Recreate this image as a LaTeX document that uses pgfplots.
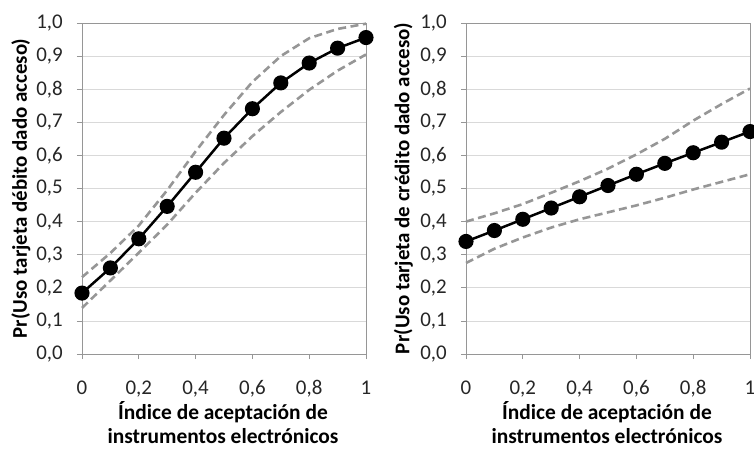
\documentclass[border=0pt]{standalone}
\usepackage{pgfplots}
\pgfplotsset{compat=1.18}
\usepackage{pgfplotstable}
\usepackage{fontspec}
\setmainfont{Carlito}
\definecolor{gridc}{RGB}{217,217,217}
\definecolor{axc}{RGB}{150,150,150}
\definecolor{dashc}{RGB}{150,150,150}
\pgfplotstableread{
x mean up lo
0   0.184 0.232 0.139
0.1 0.260 0.305 0.222
0.2 0.348 0.388 0.306
0.3 0.446 0.495 0.391
0.4 0.549 0.612 0.487
0.5 0.652 0.722 0.577
0.6 0.741 0.822 0.658
0.7 0.819 0.900 0.731
0.8 0.879 0.954 0.798
0.9 0.924 0.982 0.856
1.0 0.956 0.998 0.905
}\debito
\pgfplotstableread{
x mean up lo
0   0.340 0.400 0.275
0.1 0.373 0.425 0.318
0.2 0.407 0.453 0.352
0.3 0.441 0.487 0.382
0.4 0.475 0.522 0.407
0.5 0.509 0.560 0.428
0.6 0.543 0.603 0.449
0.7 0.576 0.650 0.472
0.8 0.608 0.705 0.497
0.9 0.640 0.755 0.520
1.0 0.672 0.802 0.543
}\credito
\pgfplotsset{
  myax/.style={
    scale only axis, width=284bp, height=331bp,
    xmin=0, xmax=1, ymin=0, ymax=1,
    xtick={0,0.2,...,1.0}, ytick={0,0.1,...,1.0},
    xtick pos=bottom, ytick pos=left,
    tick align=outside, major tick length=5bp,
    tick style={axc, line width=0.8bp},
    axis line style={axc, line width=0.8bp},
    ymajorgrids, major grid style={gridc, line width=0.8bp},
    /pgf/number format/assume math mode=true,
    /pgf/number format/use comma,
    yticklabel={\pgfmathprintnumber[fixed,fixed zerofill,precision=1,use comma]{\tick}},
    xticklabel={\pgfmathprintnumber[fixed,precision=1,use comma]{\tick}},
    ticklabel style={font=\fontsize{21}{24}\selectfont, text=black!85},
    yticklabel style={anchor=east, inner sep=0pt, xshift=-14bp},
    xticklabel style={anchor=base, inner sep=0pt, yshift=-35bp},
    xlabel style={at={([xshift=-1bp,yshift=-89bp]axis description cs:0.5,0)}, anchor=base, align=center, font=\fontsize{21.5}{23.5}\selectfont\bfseries, inner sep=0pt},
    ylabel style={font=\fontsize{21}{22}\selectfont\bfseries, anchor=center, inner sep=0pt},
    clip=false,
  },
  meanl/.style={black, line width=2.5bp, mark=*, mark size=6.3bp, mark options={solid, fill=black}},
  cil/.style={dashc, line width=2.6bp, dash pattern=on 8bp off 4.5bp},
}
\begin{document}
\begin{tikzpicture}
\begin{axis}[myax, at={(0,0)},
  ylabel style={at={([xshift=-61bp]axis description cs:0,0.5)}},
  xlabel={Índice de aceptación de\\instrumentos electrónicos},
  ylabel={Pr(Uso tarjeta débito dado acceso)}]
\addplot[cil] table[x=x,y=up] {\debito};
\addplot[cil] table[x=x,y=lo] {\debito};
\addplot[meanl] table[x=x,y=mean] {\debito};
\end{axis}
\begin{axis}[myax, at={(384bp,0)},
  ylabel style={at={([xshift=-62.5bp]axis description cs:0,0.5)}},
  xlabel={Índice de aceptación de\\instrumentos electrónicos},
  ylabel={Pr(Uso tarjeta de crédito dado acceso)}]
\addplot[cil] table[x=x,y=up] {\credito};
\addplot[cil] table[x=x,y=lo] {\credito};
\addplot[meanl] table[x=x,y=mean] {\credito};
\end{axis}
\pgfresetboundingbox
\useasboundingbox (-82bp,-95bp) rectangle (672bp,354bp);
\end{tikzpicture}
\end{document}
